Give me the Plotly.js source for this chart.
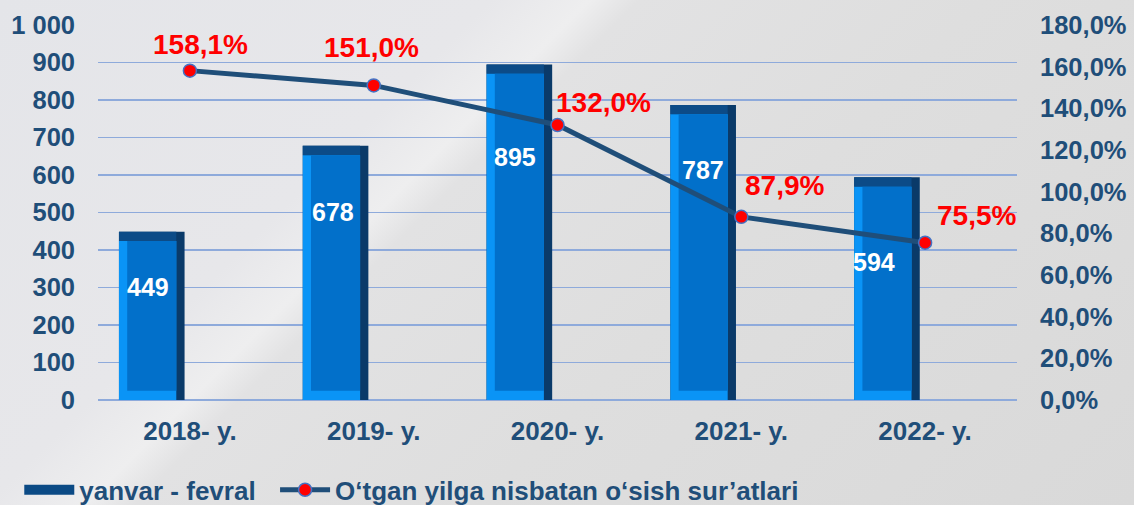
<!DOCTYPE html>
<html>
<head>
<meta charset="utf-8">
<script src="https://cdn.plot.ly/plotly-3.0.1.min.js"></script>
<style>
html,body{margin:0;padding:0;}
body{width:1134px;height:505px;overflow:hidden;
background:linear-gradient(135deg,#e4e5e9 0%,#e7e7ea 30%,#eeeeef 36%,#e2e2e3 39%,#dedede 60%,#d9d9d9 100%);}
#chart{width:1134px;height:505px;}
</style>
</head>
<body>
<div id="chart"></div>
<script>
// ---- data ----
const categories = ["2018- y.", "2019- y.", "2020- y.", "2021- y.", "2022- y."];
const barValues = [449, 678, 895, 787, 594];
const growthPct = [158.1, 151.0, 132.0, 87.9, 75.5];
const barName = "yanvar - fevral";
const lineName = "O‘tgan yilga nisbatan o‘sish sur’atlari";

// ---- label placement (pixels) ----
const barLabelShiftX = [-4, -3, -4, 0, -13];
const barLabelShiftY = [-55, -66, -93, -65, -85];
const pctLabelShiftX = [11, -2, 46, 43, 51];
const pctLabelShiftY = [26, 38, 23, 31, 27];

const FONT = '"Liberation Sans", Arial, sans-serif';
const AXIS_COLOR = '#1F4E79';

// bar geometry (category units) and bevel sizes
const barOffset = -0.386, barWidth = 0.357;
const bevelX = 0.045;   // ~8px
const bevelY = 25;      // ~9px in value units

const barOuter = {
  type: 'bar', x: categories, y: barValues, base: 0,
  offset: barOffset, width: barWidth,
  marker: {color: '#0A3A69', line: {width: 0}},
  showlegend: false, hoverinfo: 'skip', yaxis: 'y'
};
const barTop = {
  type: 'bar', x: categories, y: barValues.map(v => bevelY), base: barValues.map(v => v - bevelY),
  offset: barOffset, width: barWidth - bevelX,
  marker: {color: '#0C4B87', line: {width: 0}},
  showlegend: false, hoverinfo: 'skip'
};
const barBright = {
  type: 'bar', x: categories, y: barValues.map(v => v - bevelY), base: 0,
  offset: barOffset, width: barWidth - bevelX,
  marker: {color: '#0A94F6', line: {width: 0}},
  showlegend: false, hoverinfo: 'skip'
};
const barFront = {
  type: 'bar', x: categories, y: barValues.map(v => v - 2 * bevelY), base: bevelY,
  offset: barOffset + bevelX, width: barWidth - 2 * bevelX,
  marker: {color: '#0270CA', line: {width: 0}},
  showlegend: false, hoverinfo: 'skip'
};
const barLegend = {
  type: 'scatter', mode: 'lines', x: [null], y: [null], name: barName + '\u00a0\u00a0',
  line: {color: '#0B4A85', width: 15}, showlegend: true, hoverinfo: 'skip'
};
const growthLine = {
  type: 'scatter', mode: 'lines+markers', x: categories, y: growthPct, yaxis: 'y2',
  name: lineName,
  line: {color: '#1F4E79', width: 5},
  marker: {color: '#FF0000', size: 13, line: {color: '#4472C4', width: 1.5}},
  hoverinfo: 'skip'
};

const annotations = [];
categories.forEach((c, i) => {
  annotations.push({
    x: c, y: barValues[i], xref: 'x', yref: 'y', showarrow: false,
    text: String(barValues[i]), xshift: (barOffset + barWidth / 2) * 184 + barLabelShiftX[i], yshift: barLabelShiftY[i],
    font: {family: FONT, size: 25, color: '#FFFFFF', weight: 'bold'}
  });
  annotations.push({
    x: c, y: growthPct[i], xref: 'x', yref: 'y2', showarrow: false,
    text: growthPct[i].toFixed(1).replace('.', ',') + '%',
    xshift: pctLabelShiftX[i], yshift: pctLabelShiftY[i],
    font: {family: FONT, size: 28, color: '#FF0000', weight: 'bold'}
  });
});

const layout = {
  width: 1134, height: 505,
  margin: {l: 98, r: 117, t: 25, b: 105},
  paper_bgcolor: 'rgba(0,0,0,0)', plot_bgcolor: 'rgba(0,0,0,0)',
  separators: ', ',
  barmode: 'overlay',
  font: {family: FONT, color: AXIS_COLOR},
  xaxis: {
    type: 'category', range: [-0.5, 4.5], showgrid: false, zeroline: false, showline: false,
    ticks: '', ticklabelstandoff: 13,
    tickfont: {family: FONT, size: 26, color: AXIS_COLOR, weight: 'bold'}
  },
  yaxis: {
    range: [0, 1000], dtick: 100, tickformat: ',d',
    showgrid: true, gridcolor: '#8EAADB', gridwidth: 1.5,
    zeroline: true, zerolinecolor: '#8EAADB', zerolinewidth: 1.5,
    showline: false, ticks: '', ticklabelstandoff: 22,
    tickfont: {family: FONT, size: 25.5, color: AXIS_COLOR, weight: 'bold'}
  },
  yaxis2: {
    overlaying: 'y', side: 'right', range: [0, 180], dtick: 20,
    tickformat: '.1f', ticksuffix: '%', showgrid: false, zeroline: false, showline: false,
    ticks: '', ticklabelstandoff: 22,
    tickfont: {family: FONT, size: 25.5, color: AXIS_COLOR, weight: 'bold'}
  },
  showlegend: true,
  legend: {
    orientation: 'h', xref: 'container', yref: 'container', x: 0.017, y: 0.03,
    xanchor: 'left', yanchor: 'middle', itemwidth: 50,
    bgcolor: 'rgba(0,0,0,0)',
    font: {family: FONT, size: 26, color: AXIS_COLOR, weight: 'bold'}
  },
  annotations: annotations
};

Plotly.newPlot('chart', [barOuter, barTop, barBright, barFront, barLegend, growthLine], layout, {displayModeBar: false, staticPlot: true});
</script>
</body>
</html>
